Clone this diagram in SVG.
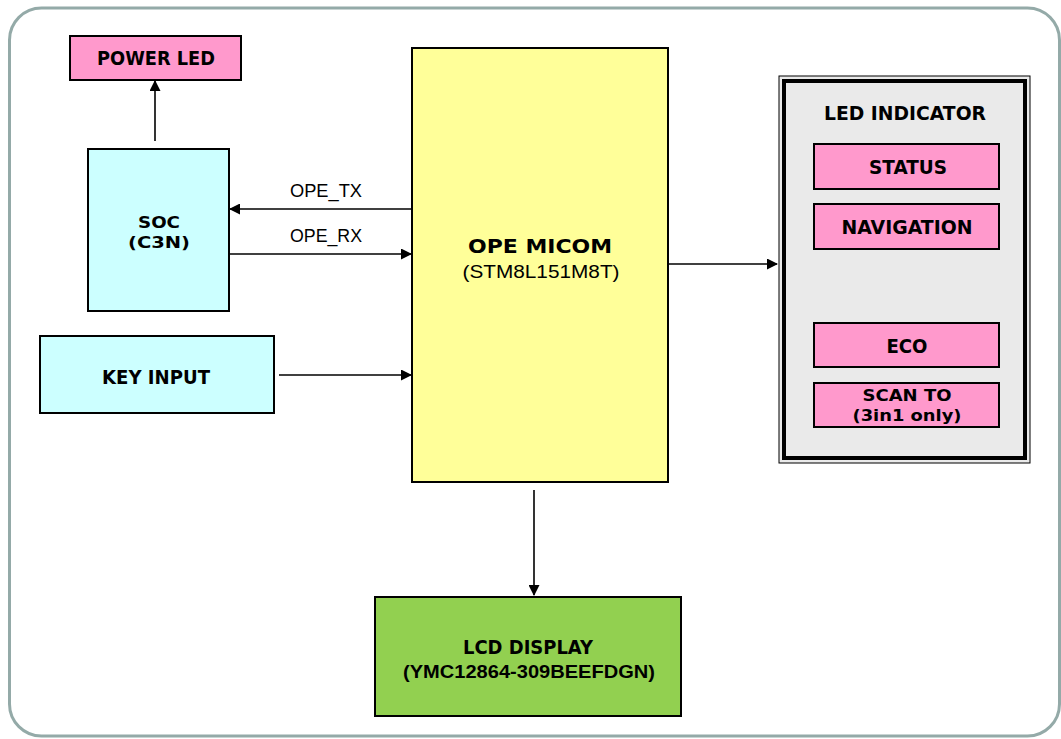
<svg xmlns="http://www.w3.org/2000/svg" width="1061" height="739" viewBox="0 0 1061 739">
<defs>
<style>
.box{stroke:#000;stroke-width:2}
.b{font-family:"DejaVu Sans","Liberation Sans",sans-serif;font-weight:bold;font-size:19px;fill:#000;text-anchor:middle}
.s{font-size:16px}
.r{font-family:"Liberation Sans","DejaVu Sans",sans-serif;font-size:18px;fill:#000;text-anchor:middle}
.w{stroke:#000;stroke-width:1.6;fill:none;marker-end:url(#ah)}
</style>
<marker id="ah" markerWidth="11" markerHeight="11" refX="10" refY="5.5" orient="auto" markerUnits="userSpaceOnUse">
<path d="M0,0 L11,5.5 L0,11 Z" fill="#000"/>
</marker>
</defs>
<rect width="1061" height="739" fill="#fff"/>
<rect id="frame" x="9.5" y="8" width="1050" height="728" rx="32" fill="#fff" stroke="#94aaa8" stroke-width="3"/>

<g id="power_led">
<rect class="box" x="70" y="36" width="171" height="44" fill="#ff99cc"/>
<text class="b" x="156" y="65" textLength="118" lengthAdjust="spacingAndGlyphs">POWER LED</text>
</g>
<g id="soc">
<rect class="box" x="88" y="149" width="141" height="162" fill="#ccffff"/>
<text class="b s" x="159" y="228" textLength="42" lengthAdjust="spacingAndGlyphs">SOC</text>
<text class="b s" x="159" y="248" textLength="62" lengthAdjust="spacingAndGlyphs">(C3N)</text>
</g>
<g id="key_input">
<rect class="box" x="40" y="336" width="234" height="77" fill="#ccffff"/>
<text class="b" x="156" y="384" textLength="108" lengthAdjust="spacingAndGlyphs">KEY INPUT</text>
</g>
<g id="ope_micom">
<rect class="box" x="412" y="48" width="256" height="434" fill="#ffff99"/>
<text class="b" x="540" y="253" font-size="21" textLength="144" lengthAdjust="spacingAndGlyphs">OPE MICOM</text>
<text class="r" x="541" y="278" textLength="157" lengthAdjust="spacingAndGlyphs">(STM8L151M8T)</text>
</g>
<g id="led_indicator">
<rect x="779" y="76" width="251" height="387" fill="#eaeaea" stroke="#000" stroke-width="1"/>
<rect x="784" y="81" width="241" height="377" fill="none" stroke="#000" stroke-width="4"/>
<text class="b" x="905" y="120" textLength="162" lengthAdjust="spacingAndGlyphs">LED INDICATOR</text>
</g>
<g id="status">
<rect class="box" x="814" y="144" width="185" height="45" fill="#ff99cc"/>
<text class="b" x="908" y="174" textLength="78" lengthAdjust="spacingAndGlyphs">STATUS</text>
</g>
<g id="navigation">
<rect class="box" x="814" y="204" width="185" height="45" fill="#ff99cc"/>
<text class="b" x="907" y="234" textLength="131" lengthAdjust="spacingAndGlyphs">NAVIGATION</text>
</g>
<g id="eco">
<rect class="box" x="814" y="323" width="185" height="44" fill="#ff99cc"/>
<text class="b" x="907" y="353" textLength="41" lengthAdjust="spacingAndGlyphs">ECO</text>
</g>
<g id="scan_to">
<rect class="box" x="814" y="383" width="185" height="44" fill="#ff99cc"/>
<text class="b s" x="907" y="401" textLength="89" lengthAdjust="spacingAndGlyphs">SCAN TO</text>
<text class="b s" x="907" y="421" textLength="109" lengthAdjust="spacingAndGlyphs">(3in1 only)</text>
</g>
<g id="lcd_display">
<rect class="box" x="375" y="597" width="306" height="119" fill="#92d050"/>
<text class="b" x="528" y="654" textLength="130" lengthAdjust="spacingAndGlyphs">LCD DISPLAY</text>
<text class="r" x="529" y="678" font-weight="bold" textLength="252" lengthAdjust="spacingAndGlyphs">(YMC12864-309BEEFDGN)</text>
</g>

<g id="connectors">
<line class="w" x1="155" y1="141" x2="155" y2="81"/>
<line class="w" x1="411" y1="209" x2="230" y2="209"/>
<line class="w" x1="230" y1="254" x2="411" y2="254"/>
<line class="w" x1="279" y1="375" x2="411" y2="375"/>
<line class="w" x1="668" y1="264" x2="777" y2="264"/>
<line class="w" x1="534" y1="490" x2="534" y2="595"/>
<text class="r" x="326" y="197" font-size="17" textLength="72" lengthAdjust="spacingAndGlyphs">OPE_TX</text>
<text class="r" x="326" y="242" font-size="17" textLength="72" lengthAdjust="spacingAndGlyphs">OPE_RX</text>
</g>
</svg>
